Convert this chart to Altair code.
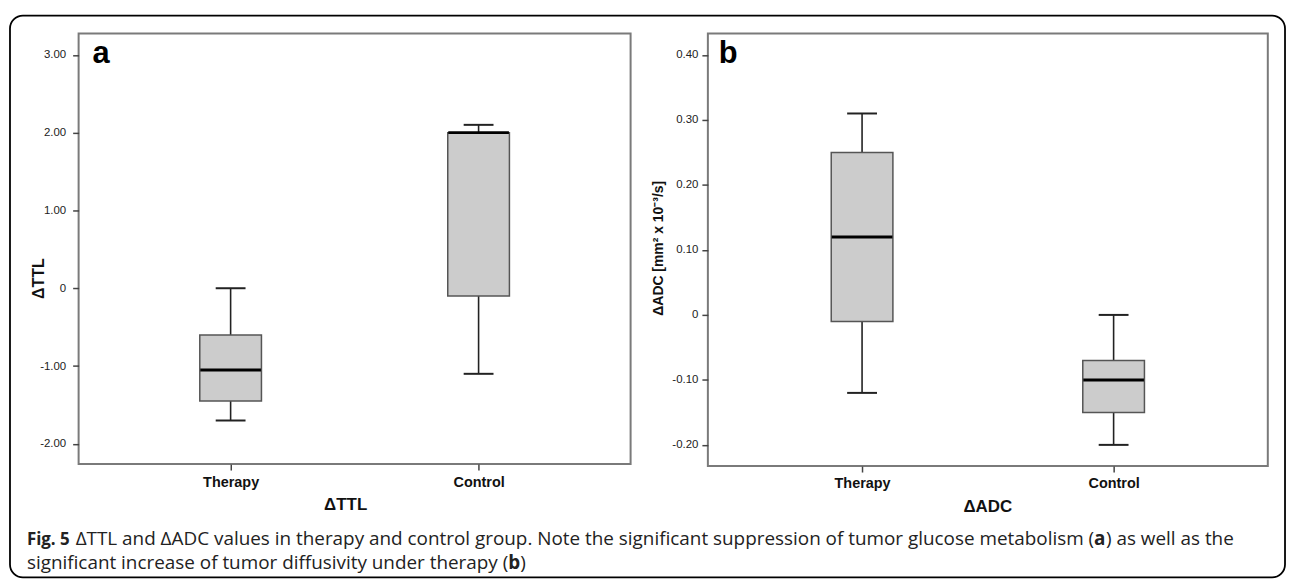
import altair as alt
import pandas as pd

groups = ["Therapy", "Control"]

# Panel a: ΔTTL box summaries
ttl_low = [-1.70, -1.10]
ttl_q1 = [-1.45, -0.10]
ttl_median = [-1.05, 2.00]
ttl_q3 = [-0.60, 2.00]
ttl_high = [0.00, 2.10]
ttl_ticks = [3, 2, 1, 0, -1, -2]

# Panel b: ΔADC box summaries
adc_low = [-0.12, -0.20]
adc_q1 = [-0.01, -0.15]
adc_median = [0.12, -0.10]
adc_q3 = [0.25, -0.07]
adc_high = [0.31, 0.00]
adc_ticks = [0.4, 0.3, 0.2, 0.1, 0, -0.1, -0.2]

cap1_bold = "Fig. 5"
cap1_text = "ΔTTL and ΔADC values in therapy and control group. Note the significant suppression of tumor glucose metabolism ("
cap1_a = "a"
cap1_end = ") as well as the"
cap2_text = "significant increase of tumor diffusivity under therapy ("
cap2_b = "b"
cap2_end = ")"

LABEL_EXPR = "datum.value == 0 ? '0' : (datum.value < 0 ? '-' : '') + format(abs(datum.value), '.2f')"
FONT = "Liberation Sans"


def panel(low, q1, med, q3, high, ticks, domain, ytitle, ytitle_x, ytitle_y,
          ytitle_size, xtitle, xtitle_x, letter, letter_x, width, height,
          ylabel_pad, xlabel_pad):
    df = pd.DataFrame({"group": groups, "low": low, "q1": q1, "median": med,
                       "q3": q3, "high": high})
    x = alt.X("group:N", sort=groups,
              scale=alt.Scale(type="point", padding=0.613),
              axis=alt.Axis(title=xtitle, titleX=xtitle_x, titleY=46,
                            titleBaseline="alphabetic", titleFont=FONT,
                            titleFontSize=17, titleFontWeight="bold",
                            titleColor="#111", labelFont=FONT,
                            labelFontSize=14.5, labelFontWeight="bold",
                            labelColor="#111", labelAngle=0,
                            labelPadding=xlabel_pad, tickSize=6,
                            tickColor="#444", tickWidth=1.5, domain=False,
                            grid=False))
    ysc = alt.Scale(domain=domain, nice=False, zero=False)
    yax = alt.Axis(values=ticks, labelExpr=LABEL_EXPR, title=ytitle,
                   titleX=ytitle_x, titleY=ytitle_y,
                   titleBaseline="alphabetic", titleFont=FONT,
                   titleFontSize=ytitle_size, titleFontWeight="bold",
                   titleColor="#111", labelFont=FONT, labelFontSize=11.5,
                   labelColor="#222", labelPadding=ylabel_pad, tickSize=6,
                   tickColor="#444", tickWidth=1.5, domain=False, grid=False)
    base = alt.Chart(df)
    whisker = base.mark_rule(color="#222", strokeWidth=1.6).encode(
        x=x, y=alt.Y("low:Q", scale=ysc, axis=yax), y2="high:Q")
    cap_lo = base.mark_tick(color="#222", size=30, thickness=2,
                            opacity=1).encode(
        x=x, y=alt.Y("low:Q", scale=ysc, axis=yax))
    cap_hi = base.mark_tick(color="#222", size=30, thickness=2,
                            opacity=1).encode(
        x=x, y=alt.Y("high:Q", scale=ysc, axis=yax))
    box = base.mark_bar(size=62, fill="#cccccc", stroke="#555",
                        strokeWidth=1.5, opacity=1).encode(
        x=x, y=alt.Y("q1:Q", scale=ysc, axis=yax), y2="q3:Q")
    median = base.mark_tick(color="#000", size=61, thickness=3,
                            opacity=1).encode(
        x=x, y=alt.Y("median:Q", scale=ysc, axis=yax))
    lt = alt.Chart(pd.DataFrame({"t": [letter]})).mark_text(
        align="left", baseline="alphabetic", font=FONT, fontSize=31,
        fontWeight="bold", color="#000").encode(
        x=alt.value(letter_x), y=alt.value(30), text="t:N")
    return [whisker, cap_lo, cap_hi, box, median, lt], width, height


def seg(text, xpos, ypos, bold, size=19):
    return alt.Chart(pd.DataFrame({"t": [text]})).mark_text(
        align="left", baseline="alphabetic", font="Open Sans", fontSize=size,
        fontWeight="bold" if bold else "normal", color="#222").encode(
        x=alt.value(xpos), y=alt.value(ypos), text="t:N")


border = alt.Chart(pd.DataFrame({"k": [1]})).mark_rect(
    fill="transparent", stroke="#000", strokeWidth=1.8, cornerRadius=13).encode(
    x=alt.value(-69), x2=alt.value(1213), y=alt.value(-18), y2=alt.value(547))

caption = [
    seg(cap1_bold, -52, 514, True, 17),
    seg(cap1_text, -3, 514, False),
    seg(cap1_a, 1021, 514, True),
    seg(cap1_end, 1033, 514, False),
    seg(cap2_text, -52, 538, False),
    seg(cap2_b, 432, 538, True),
    seg(cap2_end, 444, 538, False),
]

la, wa, ha = panel(ttl_low, ttl_q1, ttl_median, ttl_q3, ttl_high, ttl_ticks,
                   [-2.26, 3.275], "ΔTTL", -35, 246, 16, "ΔTTL", 268, "a", 14,
                   555, 433, 7, 6)
lb, wb, hb = panel(adc_low, adc_q1, adc_median, adc_q3, adc_high, adc_ticks,
                   [-0.2326, 0.4332], "ΔADC [mm² x 10⁻³/s]", -45.5, 215.5, 14,
                   "ΔADC", 281, "b", 11, 563, 435, 4, 5)

panel_a = alt.layer(border, *la, *caption).properties(width=wa, height=ha)
panel_b = alt.layer(*lb).properties(width=wb, height=hb)

chart = alt.hconcat(panel_a, panel_b, spacing=77.7, bounds="flush").properties(
    padding={"left": 0, "top": 4, "right": 0, "bottom": 0}
).configure_view(stroke="#7a7a7a", strokeWidth=2)

chart.save("out.html", embed_options={"renderer": "svg", "actions": False})
